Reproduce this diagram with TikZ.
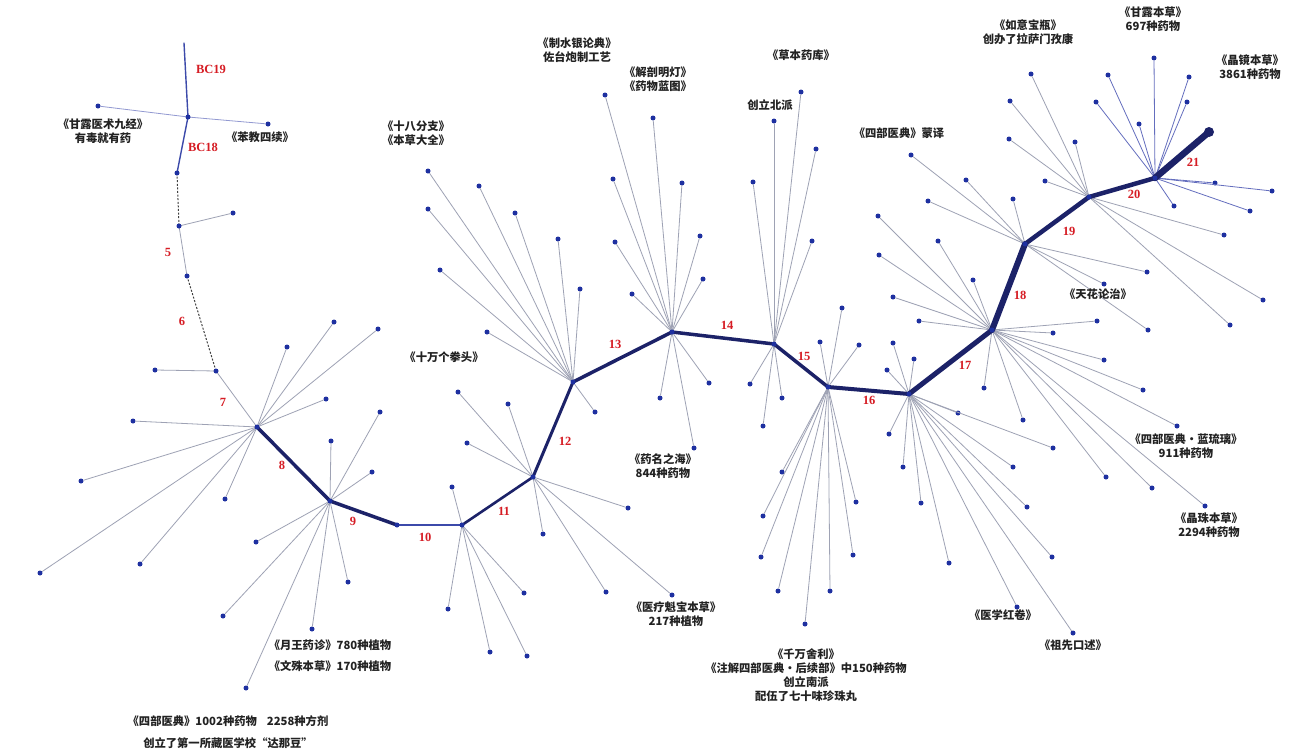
\documentclass[tikz,border=0pt]{standalone}
\usepackage{fontspec}
\setmainfont{Liberation Serif}
\newfontfamily\zhfont{Noto Sans CJK SC}
\definecolor{trunkblue}{RGB}{28,34,104}
\definecolor{stemblue}{RGB}{60,74,170}
\definecolor{dotblue}{RGB}{30,48,160}
\definecolor{twiggray}{RGB}{158,162,180}
\definecolor{twigblue}{RGB}{100,110,190}
\definecolor{numred}{RGB}{214,28,36}
\definecolor{bookgray}{RGB}{34,34,34}
\tikzset{
	dot/.style = { circle , fill = dotblue , inner sep = 0pt , minimum size = 5pt } ,
	twig/.style = { draw = twiggray , line width = 0.8pt } ,
	trunk/.style = { draw = trunkblue , line cap = round , line join = round } ,
	gap/.style = { draw = black!75 , line width = 1pt , dash pattern = on 2pt off 1.6pt } ,
	num/.style = { text = numred , font = \bfseries\fontsize{12.5}{13}\selectfont , inner sep = 0pt } ,
	book/.style = { text = bookgray , font = \zhfont\bfseries\fontsize{11.3}{14}\selectfont , align = center , inner sep = 0pt }
}

\begin{document}
\begin{tikzpicture}[x = 1pt , y = -1pt]
	\useasboundingbox (0,0) rectangle (1302,755);
	\fill[white] (0,0) rectangle (1302,755);
	\coordinate (top) at (184,43);
	\foreach \n/\x/\y in { a/188/117 , b/177/173 , c/179/226 , d/187/276 , e/216/371 ,
			7/257/427 , 8/330/501 , 9/397/525 , 10/462/525 , 11/533/477 , 12/573/382 ,
			13/672/332 , 14/774/344 , 15/828/387 , 16/909/394 , 17/992/330 ,
			18/1025/244 , 19/1089/197 , 20/1155/178 , 21/1209/132 }
		{ \coordinate (n\n) at (\x,\y); }

	\foreach \x/\y [count = \i] in { 98/106 , 268/124 }
		{ \node[dot] (la-\i) at (\x,\y) {}; \draw[twig , draw = twigblue!70] (na) -- (la-\i); }
	\node[dot] (lc-1) at (233,213) {};
	\draw[twig] (nc) -- (lc-1);
	\node[dot] (le-1) at (155,370) {};
	\draw[twig] (ne) -- (le-1);
	\foreach \x/\y [count = \i] in { 287/347 , 334/322 , 378/329 , 326/399 , 133/421 , 81/481 , 225/499 , 40/573 , 140/564 }
		{ \node[dot] (l7-\i) at (\x,\y) {}; \draw[twig] (n7) -- (l7-\i); }
	\foreach \x/\y [count = \i] in { 331/441 , 380/412 , 372/472 , 256/542 , 348/582 , 223/616 , 312/629 , 246/688 }
		{ \node[dot] (l8-\i) at (\x,\y) {}; \draw[twig] (n8) -- (l8-\i); }
	\foreach \x/\y [count = \i] in { 452/487 , 448/609 , 524/593 , 490/652 , 527/656 }
		{ \node[dot] (l10-\i) at (\x,\y) {}; \draw[twig] (n10) -- (l10-\i); }
	\foreach \x/\y [count = \i] in { 458/392 , 508/404 , 467/443 , 628/508 , 543/534 , 606/592 , 672/595 }
		{ \node[dot] (l11-\i) at (\x,\y) {}; \draw[twig] (n11) -- (l11-\i); }
	\foreach \x/\y [count = \i] in { 428/171 , 479/186 , 428/209 , 515/213 , 558/239 , 440/270 , 580/289 , 487/332 , 595/412 }
		{ \node[dot] (l12-\i) at (\x,\y) {}; \draw[twig] (n12) -- (l12-\i); }
	\foreach \x/\y [count = \i] in { 605/95 , 653/118 , 613/179 , 682/183 , 615/242 , 632/294 , 700/236 , 703/279 , 660/398 , 694/448 , 709/383 }
		{ \node[dot] (l13-\i) at (\x,\y) {}; \draw[twig] (n13) -- (l13-\i); }
	\foreach \x/\y [count = \i] in { 801/92 , 774/121 , 816/149 , 753/182 , 812/241 , 750/384 , 782/398 , 763/426 }
		{ \node[dot] (l14-\i) at (\x,\y) {}; \draw[twig] (n14) -- (l14-\i); }
	\foreach \x/\y [count = \i] in { 842/308 , 820/342 , 859/345 , 782/472 , 763/516 , 761/557 , 778/591 , 805/624 , 830/591 , 853/555 , 856/502 }
		{ \node[dot] (l15-\i) at (\x,\y) {}; \draw[twig] (n15) -- (l15-\i); }
	\foreach \x/\y [count = \i] in { 893/343 , 914/359 , 887/370 , 958/413 , 889/434 , 903/467 , 921/503 , 949/563 , 1013/467 , 1027/507 , 1052/557 , 1053/448 , 1017/607 , 1073/633 }
		{ \node[dot] (l16-\i) at (\x,\y) {}; \draw[twig] (n16) -- (l16-\i); }
	\foreach \x/\y [count = \i] in { 878/216 , 938/241 , 879/255 , 973/280 , 893/297 , 919/321 , 1053/333 , 1097/321 , 1104/360 , 1143/390 , 984/388 , 1023/420 , 1177/426 , 1106/477 , 1152/488 , 1205/506 }
		{ \node[dot] (l17-\i) at (\x,\y) {}; \draw[twig] (n17) -- (l17-\i); }
	\foreach \x/\y [count = \i] in { 911/155 , 966/180 , 928/201 , 1013/199 , 1147/272 , 1104/284 , 1148/330 }
		{ \node[dot] (l18-\i) at (\x,\y) {}; \draw[twig] (n18) -- (l18-\i); }
	\foreach \x/\y [count = \i] in { 1031/74 , 1010/101 , 1009/139 , 1075/142 , 1045/181 , 1224/235 , 1263/300 , 1230/325 }
		{ \node[dot] (l19-\i) at (\x,\y) {}; \draw[twig] (n19) -- (l19-\i); }
	\foreach \x/\y [count = \i] in { 1154/58 , 1108/75 , 1189/77 , 1096/102 , 1187/102 , 1139/124 , 1215/183 , 1272/191 , 1174/206 , 1250/211 }
		{ \node[dot] (l20-\i) at (\x,\y) {}; \draw[twig , draw = twigblue] (n20) -- (l20-\i); }

	\draw[trunk , draw = stemblue , line width = 1.4pt] (top) -- (na) -- (nb);
	\draw[gap] (nb) -- (nc);
	\draw[twig] (nc) -- (nd);
	\draw[gap] (nd) -- (ne);
	\draw[twig] (ne) -- (n7);
	\draw[trunk , line width = 3.5pt] (n7) -- (n8) -- (n9);
	\draw[trunk , draw = stemblue , line width = 2pt] (n9) -- (n10);
	\draw[trunk , line width = 2.6pt] (n10) -- (n11);
	\draw[trunk , line width = 3pt] (n11) -- (n12);
	\draw[trunk , line width = 3.5pt] (n12) -- (n13) -- (n14) -- (n15);
	\draw[trunk , line width = 4pt] (n15) -- (n16);
	\draw[trunk , line width = 5pt] (n16) -- (n17);
	\draw[trunk , line width = 6pt] (n17) -- (n18);
	\draw[trunk , line width = 4.5pt] (n18) -- (n19) -- (n20);
	\draw[trunk , line width = 6.5pt] (n20) -- (n21);
	\node[circle , fill = trunkblue , inner sep = 0pt , minimum size = 10pt] (tip) at (n21) {};
	\foreach \n in {a,b,c,d,e,7,8,9,10,11,12,13,14,15,16,17,18,19,20}
		{ \node[dot] (h\n) at (n\n) {}; }

	\foreach \t/\x/\y in { BC19/211/69 , BC18/203/147 , 5/168/252 , 6/182/321 , 7/223/402 , 8/282/465 ,
			9/353/521 , 10/425/537 , 11/504/511 , 12/565/441 , 13/615/344 , 14/727/325 , 15/804/356 ,
			16/869/400 , 17/965/365 , 18/1020/295 , 19/1069/231 , 20/1134/194 , 21/1193/162 }
		{ \node[num] (t\t) at (\x,\y) {\t}; }

	\node[book] (ganlu) at (103,131) {《甘露医术九经》\\有毒就有药};
	\node[book] (benjiao) at (260,137) {《苯教四续》};
	\node[book] (yuewang) at (330,656) {《月王药诊》780种植物\\[7pt]《文殊本草》170种植物};
	\node[book] (sibu) at (228,732) {《四部医典》1002种药物\hspace{10pt}2258种方剂\\[8pt]创立了第一所藏医学校“达那豆”};
	\node[book] (shiwan) at (444,357) {《十万个拳头》};
	\node[book] (shiba) at (416,133) {《十八分支》\\《本草大全》};
	\node[book] (zhishui) at (577,50) {《制水银论典》\\佐台炮制工艺};
	\node[book] (jiepou) at (658,79) {《解剖明灯》\\《药物蓝图》};
	\node[book] (yaoming) at (663,466) {《药名之海》\\844种药物};
	\node[book] (yiliao) at (676,614) {《医疗魁宝本草》\\217种植物};
	\node[book] (caoben) at (801,55) {《草本药库》};
	\node[book] (beipai) at (770,105) {创立北派};
	\node[book] (mengyi) at (899,133) {《四部医典》蒙译};
	\node[book] (qianwan) at (806,675) {《千万舍利》\\《注解四部医典•后续部》中150种药物\\创立南派\\配伍了七十味珍珠丸};
	\node[book] (ruyi) at (1028,32) {《如意宝瓶》\\创办了拉萨门孜康};
	\node[book] (ganlubc) at (1153,19) {《甘露本草》\\697种药物};
	\node[book] (jingjing) at (1250,67) {《晶镜本草》\\3861种药物};
	\node[book] (tianhua) at (1098,294) {《天花论治》};
	\node[book] (lanliuli) at (1186,446) {《四部医典•蓝琉璃》\\911种药物};
	\node[book] (jingzhu) at (1209,525) {《晶珠本草》\\2294种药物};
	\node[book] (hongjuan) at (1003,615) {《医学红卷》};
	\node[book] (zuxian) at (1073,645) {《祖先口述》};
\end{tikzpicture}
\end{document}
